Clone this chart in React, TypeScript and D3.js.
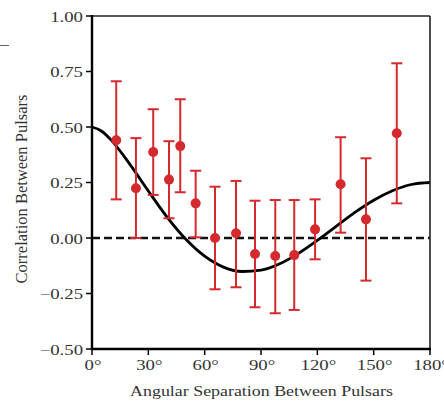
import React from 'react';
import * as d3 from 'd3';

// measured pulsar-pair correlations (angle in degrees, value, error bar ends)
const angles = [12.9, 23.4, 32.6, 41.0, 47.0, 55.2, 65.5, 76.7, 86.8, 97.6, 107.7, 118.8, 132.4, 145.9, 162.3];
const values = [0.44, 0.224, 0.387, 0.263, 0.414, 0.156, 0.0, 0.021, -0.072, -0.081, -0.077, 0.039, 0.242, 0.084, 0.472];
const upper = [0.706, 0.45, 0.58, 0.436, 0.625, 0.303, 0.231, 0.257, 0.168, 0.171, 0.171, 0.174, 0.454, 0.359, 0.787];
const lower = [0.174, 0.0, 0.194, 0.089, 0.206, 0.003, -0.231, -0.222, -0.312, -0.339, -0.324, -0.096, 0.024, -0.192, 0.156];

// expected curve
const curveAngles = [0, 5, 10, 20, 30, 40, 50, 60, 70, 80, 90, 100, 110, 120, 130, 140, 150, 160, 170, 180];
const curveValues = [0.5, 0.482, 0.443, 0.334, 0.212, 0.094, -0.006, -0.082, -0.131, -0.151, -0.145, -0.116, -0.069, -0.011, 0.052, 0.115, 0.17, 0.213, 0.241, 0.25];

const xTicks = [0, 30, 60, 90, 120, 150, 180];
const yTicks = [-0.5, -0.25, 0, 0.25, 0.5, 0.75, 1.0];

const RED = '#d42a2e';
const FONT = '"Liberation Serif", "Times New Roman", serif';

const App = () => {
  const left = 92, right = 430, top = 16, bottom = 349;

  const x = d3.scaleLinear().domain([0, 180]).range([left, right]);
  const y = d3.scaleLinear().domain([-0.5, 1.0]).range([bottom, top]);

  const curve = d3
    .line<number>()
    .x((d, i) => x(curveAngles[i]))
    .y((d) => y(d))
    .curve(d3.curveMonotoneX);

  return (
    <svg
      width={444}
      height={401}
      style={{ position: 'absolute', left: 0, top: 0, background: '#fff' }}
      fontFamily={FONT}
    >
      <line x1={0} x2={9} y1={45.5} y2={45.5} stroke="#666" strokeWidth={1} />

      {/* zero line */}
      <line x1={left} x2={right} y1={y(0)} y2={y(0)} stroke="#111" strokeWidth={2.5} strokeDasharray="8,4" />

      {/* expected curve */}
      <path d={curve(curveValues) || ''} fill="none" stroke="#000" strokeWidth={2.8} />

      {/* data with error bars */}
      {angles.map((a, i) => (
        <g key={i} stroke={RED} strokeWidth={2}>
          <line x1={x(a)} x2={x(a)} y1={y(upper[i])} y2={y(lower[i])} />
          <line x1={x(a) - 5.5} x2={x(a) + 5.5} y1={y(upper[i])} y2={y(upper[i])} />
          <line x1={x(a) - 5.5} x2={x(a) + 5.5} y1={y(lower[i])} y2={y(lower[i])} />
          <circle cx={x(a)} cy={y(values[i])} r={5} fill={RED} stroke="none" />
        </g>
      ))}

      {/* frame */}
      <line x1={left} x2={right} y1={top} y2={top} stroke="#222" strokeWidth={1.6} />
      <line x1={right} x2={right} y1={top} y2={bottom} stroke="#222" strokeWidth={1.6} />
      <line x1={left} x2={left} y1={top - 1} y2={bottom + 1} stroke="#000" strokeWidth={2.4} />
      <line x1={left - 1} x2={right + 1} y1={bottom} y2={bottom} stroke="#000" strokeWidth={2.4} />

      {/* y ticks */}
      {yTicks.map((t) => (
        <g key={t}>
          <line x1={left - 6} x2={left} y1={y(t)} y2={y(t)} stroke="#000" strokeWidth={1.5} />
          <text
            transform={`translate(${left - 9}, ${y(t) + 5.5}) scale(1.25, 1)`}
            textAnchor="end"
            fontSize={15}
            fill="#333"
          >
            {t < 0 ? '\u2212' + Math.abs(t).toFixed(2) : t.toFixed(2)}
          </text>
        </g>
      ))}

      {/* x ticks */}
      {xTicks.map((t) => (
        <g key={t}>
          <line x1={x(t)} x2={x(t)} y1={bottom} y2={bottom + 6} stroke="#000" strokeWidth={1.5} />
          <text
            transform={`translate(${x(t) + 1}, 370) scale(1.25, 1)`}
            textAnchor="middle"
            fontSize={15}
            fill="#333"
          >
            {t + '\u00b0'}
          </text>
        </g>
      ))}

      <text
        transform="translate(261.5, 396) scale(1.17, 1)"
        textAnchor="middle"
        fontSize={15.3}
        fill="#333"
      >
        Angular Separation Between Pulsars
      </text>
      <text
        transform={`translate(27, 189) rotate(-90)`}
        textAnchor="middle"
        fontSize={16.5}
        fill="#333"
      >
        Correlation Between Pulsars
      </text>
    </svg>
  );
};

export default App;
